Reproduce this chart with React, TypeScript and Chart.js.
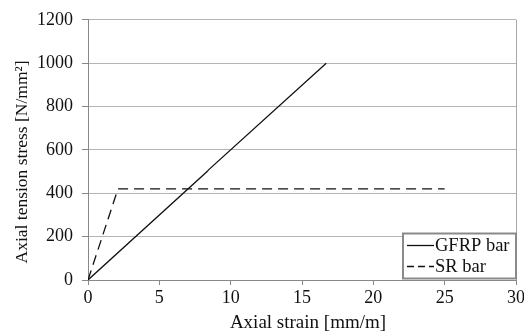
import React, { useEffect, useRef } from "react";
import { Chart, registerables } from "chart.js";

Chart.register(...registerables);

const gfrpStrain = [0, 8.35, 8.45, 16.7];
const gfrpStress = [0, 500, 508, 1000];
const srStrain = [0, 2.1, 25];
const srStress = [0, 420, 420];
const seriesLabels = ["GFRP bar", "SR bar"];
const xTitle = "Axial strain [mm/m]";
const yTitle = "Axial tension stress [N/mm\u00B2]";

const FONT = "'Liberation Serif', 'Times New Roman', serif";

const axisTitles = {
  id: "axisTitles",
  afterDraw(chart: any) {
    const ctx = chart.ctx;
    const a = chart.chartArea;
    ctx.save();
    ctx.fillStyle = "#111";
    ctx.textAlign = "center";
    ctx.textBaseline = "alphabetic";
    ctx.font = `19px ${FONT}`;
    ctx.fillText(chart.options.plugins.axisTitles.x, (a.left + a.right) / 2 + 6, 328);
    ctx.translate(27, (a.top + a.bottom) / 2 + 12);
    ctx.rotate(-Math.PI / 2);
    ctx.font = `17.5px ${FONT}`;
    ctx.fillText(chart.options.plugins.axisTitles.y, 0, 0);
    ctx.restore();
  },
};

const insideLegend = {
  id: "insideLegend",
  afterDraw(chart: any) {
    const ctx = chart.ctx;
    const area = chart.chartArea;
    const w = 113;
    const h = 45;
    const x = area.right - w;
    const y = area.bottom - h - 1.5;
    ctx.save();
    ctx.fillStyle = "#ffffff";
    ctx.fillRect(x, y, w, h);
    ctx.strokeStyle = "#8a8a8a";
    ctx.lineWidth = 2;
    ctx.strokeRect(x, y, w, h);
    ctx.font = `18.5px ${FONT}`;
    ctx.textBaseline = "middle";
    ctx.fillStyle = "#111";
    chart.data.datasets.forEach((ds: any, i: number) => {
      const cy = y + 12 + i * 21;
      ctx.beginPath();
      ctx.strokeStyle = "#111";
      ctx.lineWidth = 1.3;
      ctx.setLineDash(ds.borderDash && ds.borderDash.length ? [7, 4] : []);
      ctx.moveTo(x + 4, cy);
      ctx.lineTo(x + 31, cy);
      ctx.stroke();
      ctx.setLineDash([]);
      ctx.fillText(ds.label, x + 32, cy + 1);
    });
    ctx.restore();
  },
};

const rightBorder = {
  id: "rightBorder",
  afterDatasetsDraw(chart: any) {
    const ctx = chart.ctx;
    const a = chart.chartArea;
    ctx.save();
    ctx.strokeStyle = "#a8a8a8";
    ctx.lineWidth = 1;
    ctx.beginPath();
    ctx.moveTo(a.right + 0.5, a.top);
    ctx.lineTo(a.right + 0.5, a.bottom);
    ctx.stroke();
    ctx.restore();
  },
};

export default function App() {
  const ref = useRef<HTMLCanvasElement>(null);
  useEffect(() => {
    if (!ref.current) return;
    const chart = new Chart(ref.current, {
      type: "scatter",
      data: {
        datasets: [
          {
            label: seriesLabels[0],
            data: gfrpStrain.map((x, i) => ({ x, y: gfrpStress[i] })),
            showLine: true,
            borderColor: "#111",
            borderWidth: 1.3,
            pointRadius: 0,
            borderDash: [],
          },
          {
            label: seriesLabels[1],
            data: srStrain.map((x, i) => ({ x, y: srStress[i] })),
            showLine: true,
            borderColor: "#111",
            borderWidth: 1.3,
            pointRadius: 0,
            borderDash: [10, 6],
          },
        ],
      },
      options: {
        animation: false,
        responsive: false,
        maintainAspectRatio: false,
        layout: { padding: { left: 0, top: 18, right: 0, bottom: 0 } },
        plugins: {
          legend: { display: false },
          tooltip: { enabled: false },
          // @ts-ignore
          axisTitles: { x: xTitle, y: yTitle },
        },
        scales: {
          x: {
            type: "linear",
            min: 0,
            max: 30,
            ticks: { stepSize: 5, color: "#111", font: { family: FONT, size: 18 }, padding: 2, callback: (v: any) => String(v) },
            grid: { drawOnChartArea: false, drawTicks: true, tickLength: 5, color: "#888" },
            border: { color: "#888", width: 1 },
            title: { display: false, text: xTitle },
            afterFit: (s: any) => { s.height = 54; s.paddingRight = 8; s.paddingLeft = 0; },
          },
          y: {
            type: "linear",
            min: 0,
            max: 1200,
            ticks: { stepSize: 200, color: "#111", font: { family: FONT, size: 18 }, padding: 9, callback: (v: any) => String(v) },
            grid: { color: "#b4b4b4", tickLength: 6, tickColor: "#888" },
            border: { color: "#888", width: 1 },
            title: { display: false, text: yTitle },
            afterFit: (s: any) => { s.width = 88; },
          },
        },
      },
      plugins: [rightBorder, insideLegend, axisTitles],
    });
    return () => chart.destroy();
  }, []);
  return (
    <div style={{ position: "fixed", left: 0, top: 0, width: 524, height: 334, background: "#fff" }}>
      <canvas ref={ref} width={524} height={334} style={{ width: 524, height: 334 }} />
    </div>
  );
}
